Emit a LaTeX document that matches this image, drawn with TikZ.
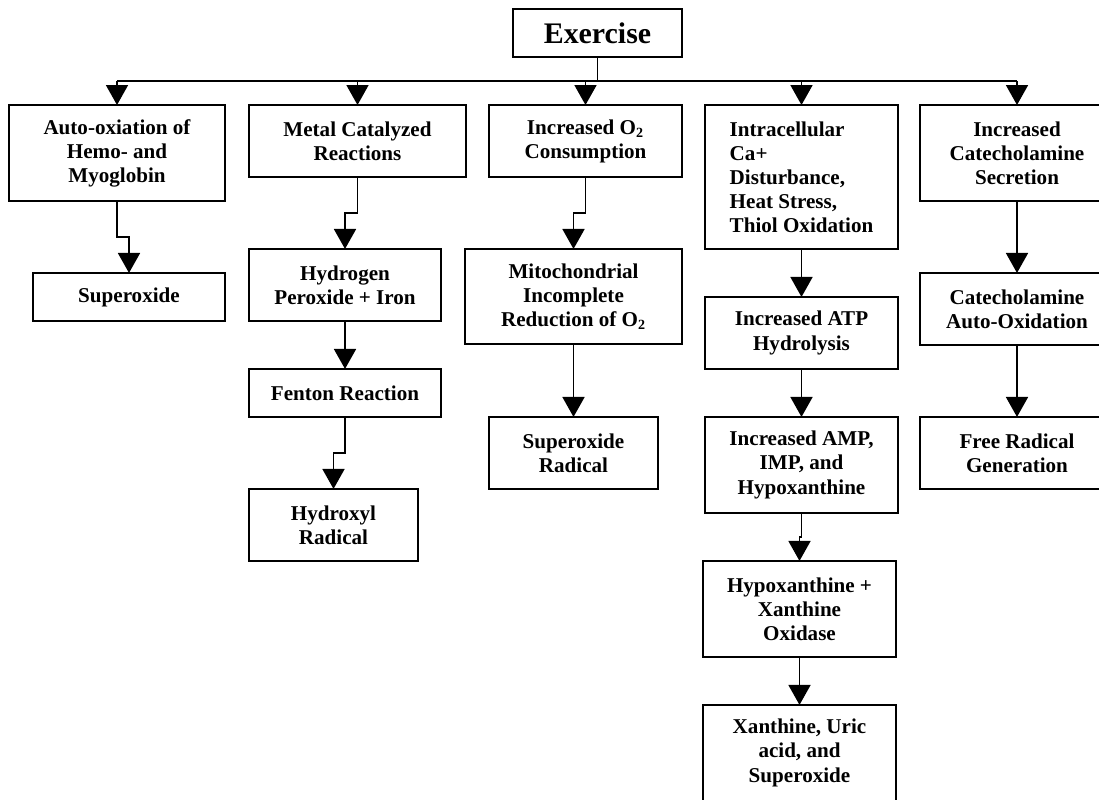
\documentclass[tikz,border=0pt]{standalone}
\usepackage{fontspec}
\setmainfont{Liberation Serif}
\usetikzlibrary{arrows.meta, positioning, calc}

\begin{document}
\begin{tikzpicture}[
		x=0.02cm, y=-0.02cm,
		>={Triangle[width=0.44cm, length=0.4cm]},
		line width=1pt
	]
	\tikzstyle{BoxNode} = [ %plain black frame round each step
		draw=black,
		inner sep=0pt,
		outer sep=0pt,
		align=center,
		font=\fontsize{12}{13.7}\selectfont\bfseries
	]
	\useasboundingbox (0,0) rectangle (1099,799);
	\clip (0,0) rectangle (1099,799);

	\node (ex) [BoxNode, minimum width=3.38cm, minimum height=0.96cm,
		font=\fontsize{17}{20}\selectfont\bfseries] at (597.5,33) {Exercise};
	\coordinate (bus) at (0,81);

	% first row
	\node (a1) [BoxNode, anchor=north, minimum width=4.32cm, minimum height=1.92cm] at (117,105)
		{Auto-oxiation of\\Hemo- and\\Myoglobin};
	\node (b1) [BoxNode, anchor=north, minimum width=4.34cm, minimum height=1.44cm] at (357.5,105)
		{Metal Catalyzed\\Reactions};
	\node (c1) [BoxNode, anchor=north, minimum width=3.86cm, minimum height=1.44cm] at (585.5,105)
		{Increased O\textsubscript{2}\\Consumption};
	\node (d1) [BoxNode, anchor=north, align=left, minimum width=3.86cm, minimum height=2.88cm] at (801.5,105)
		{Intracellular\\Ca+\\Disturbance,\\Heat Stress,\\Thiol Oxidation};
	\node (e1) [BoxNode, anchor=north, minimum width=3.88cm, minimum height=1.92cm] at (1017,105)
		{Increased\\Catecholamine\\Secretion};

	% columns
	\node (a2) [BoxNode, below=1.44cm of a1.south east, anchor=north east,
		minimum width=3.84cm, minimum height=0.96cm] {Superoxide};

	\node (b2) [BoxNode, below=1.44cm of b1.south west, anchor=north west,
		minimum width=3.84cm, minimum height=1.44cm] {Hydrogen\\Peroxide + Iron};
	\node (b3) [BoxNode, below=0.96cm of b2, minimum width=3.84cm, minimum height=0.96cm]
		{Fenton Reaction};
	\node (b4) [BoxNode, below=1.44cm of b3.south west, anchor=north west,
		minimum width=3.38cm, minimum height=1.44cm] {Hydroxyl\\Radical};

	\node (c2) [BoxNode, below=1.44cm of c1.south east, anchor=north east,
		minimum width=4.34cm, minimum height=1.9cm] {Mitochondrial\\Incomplete\\Reduction of O\textsubscript{2}};
	\node (c3) [BoxNode, below=1.46cm of c2, minimum width=3.38cm, minimum height=1.44cm]
		{Superoxide\\Radical};

	\node (d2) [BoxNode, below=0.96cm of d1, minimum width=3.86cm, minimum height=1.44cm]
		{Increased ATP\\Hydrolysis};
	\node (d3) [BoxNode, below=0.96cm of d2, minimum width=3.86cm, minimum height=1.92cm]
		{Increased AMP,\\IMP, and\\Hypoxanthine};
	\node (d4) [BoxNode, below=0.96cm of d3, xshift=-0.04cm, minimum width=3.86cm, minimum height=1.92cm]
		{Hypoxanthine +\\Xanthine\\Oxidase};
	\node (d5) [BoxNode, below=0.96cm of d4, minimum width=3.86cm, minimum height=1.92cm]
		{Xanthine, Uric\\acid, and\\Superoxide};

	\node (e2) [BoxNode, below=1.44cm of e1, minimum width=3.88cm, minimum height=1.44cm]
		{Catecholamine\\Auto-Oxidation};
	\node (e3) [BoxNode, below=1.44cm of e2, minimum width=3.88cm, minimum height=1.44cm]
		{Free Radical\\Generation};

	% branches from exercise
	\draw (ex.south) -- (ex.south |- bus);
	\draw (a1.north |- bus) -- (e1.north |- bus);
	\draw[->] (a1.north |- bus) -- (a1.north);
	\draw[->] (b1.north |- bus) -- (b1.north);
	\draw[->] (c1.north |- bus) -- (c1.north);
	\draw[->] (d1.north |- bus) -- (d1.north);
	\draw[->] (e1.north |- bus) -- (e1.north);

	\draw[->] (a1.south) |- ($(a1.south)!0.5!(a2.north)$) -| (a2.north);
	\draw[->] (b1.south) |- ($(b1.south)!0.5!(b2.north)$) -| (b2.north);
	\draw[->] (b2.south) -- (b3.north);
	\draw[->] (b3.south) |- ($(b3.south)!0.5!(b4.north)$) -| (b4.north);
	\draw[->] (c1.south) |- ($(c1.south)!0.5!(c2.north)$) -| (c2.north);
	\draw[->] (c2.south) -- (c3.north);
	\draw[->] (d1.south) -- (d2.north);
	\draw[->] (d2.south) -- (d3.north);
	\draw[->] (d3.south) |- ($(d3.south)!0.5!(d4.north)$) -| (d4.north);
	\draw[->] (d4.south) -- (d5.north);
	\draw[->] (e1.south) -- (e2.north);
	\draw[->] (e2.south) -- (e3.north);
\end{tikzpicture}
\end{document}
